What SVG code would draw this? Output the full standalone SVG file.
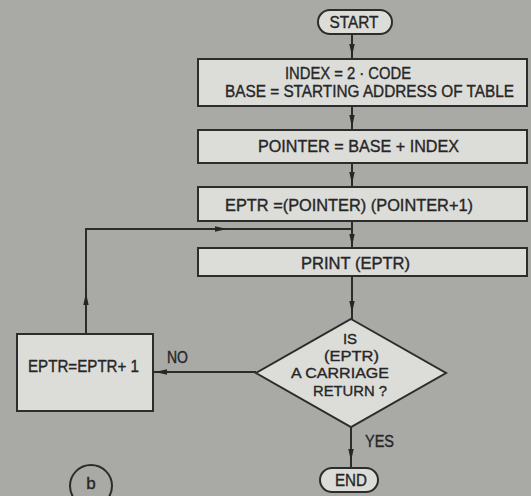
<svg xmlns="http://www.w3.org/2000/svg" width="531" height="496" viewBox="0 0 531 496">
<defs>
<style>
.bg{fill:#a9a9a6}
.box{fill:#dcdcd9;stroke:#2c2c2c;stroke-width:2}
.ln{fill:none;stroke:#2c2c2c;stroke-width:2;marker-mid:url(#ah)}
text{font-family:"Liberation Sans",Arial,sans-serif;font-size:16px;fill:#262626;stroke:#262626;stroke-width:0.35}
.c{text-anchor:middle}
.d{font-size:15px}
.big{font-size:17px}
</style>
<marker id="ah" viewBox="0 0 12 6" refX="12" refY="3" markerUnits="userSpaceOnUse" markerWidth="12" markerHeight="6" orient="auto">
<path d="M0,0.3 L12,3 L0,5.7 z" fill="#262626"/>
</marker>
</defs>
<rect class="bg" x="0" y="0" width="531" height="496"/>
<g id="connectors">
<path class="ln" d="M352,34 V56 V59"/>
<path class="ln" d="M352,106 V127 V130"/>
<path class="ln" d="M352,163 V184 V187"/>
<path class="ln" d="M352,221 V246 V248"/>
<path class="ln" d="M352,276 V313 V319"/>
<path class="ln" d="M351,427 V461 V468"/>
<path class="ln" d="M256,372 H155 H153"/>
<path class="ln" d="M86,334 V293 V230"/>
<path class="ln" d="M85,229 H227 H352"/>
</g>
<g id="start">
<rect class="box" x="318" y="10" width="74" height="24" rx="12"/>
<text class="c" x="354" y="28" textLength="49" lengthAdjust="spacingAndGlyphs">START</text>
</g>
<g id="init">
<rect class="box" x="198" y="59" width="329" height="47"/>
<text class="c" x="348" y="79" textLength="126" lengthAdjust="spacingAndGlyphs">INDEX = 2 · CODE</text>
<text class="c" x="369.5" y="97" textLength="289" lengthAdjust="spacingAndGlyphs">BASE = STARTING ADDRESS OF TABLE</text>
</g>
<g id="pointer">
<rect class="box" x="198" y="130" width="329" height="33"/>
<text class="c" x="358.5" y="152" textLength="201" lengthAdjust="spacingAndGlyphs">POINTER = BASE + INDEX</text>
</g>
<g id="eptr">
<rect class="box" x="198" y="187" width="329" height="34"/>
<text x="225" y="211" textLength="248" lengthAdjust="spacingAndGlyphs">EPTR =(POINTER) (POINTER+1)</text>
</g>
<g id="print">
<rect class="box" x="198" y="248" width="329" height="28"/>
<text class="c" x="355.5" y="269" textLength="109" lengthAdjust="spacingAndGlyphs">PRINT (EPTR)</text>
</g>
<g id="decision">
<polygon class="box" points="351,319 446,373 351,427 256,373"/>
<text class="c d" x="350" y="344">IS</text>
<text class="c d" x="351.5" y="361" textLength="55" lengthAdjust="spacingAndGlyphs">(EPTR)</text>
<text class="c d" x="340" y="378" textLength="98" lengthAdjust="spacingAndGlyphs">A CARRIAGE</text>
<text class="c d" x="350" y="396" textLength="74" lengthAdjust="spacingAndGlyphs">RETURN ?</text>
<text x="365" y="447" textLength="29" lengthAdjust="spacingAndGlyphs">YES</text>
<text x="167" y="363" textLength="21" lengthAdjust="spacingAndGlyphs">NO</text>
</g>
<g id="increment">
<rect class="box" x="17" y="334" width="136" height="77"/>
<text class="c" x="83.5" y="372" textLength="111" lengthAdjust="spacingAndGlyphs">EPTR=EPTR+ 1</text>
</g>
<g id="end">
<rect class="box" x="320" y="468" width="58" height="24" rx="12"/>
<text class="c" x="351" y="486" textLength="32" lengthAdjust="spacingAndGlyphs">END</text>
</g>
<g id="label-b">
<circle cx="91" cy="486" r="21" fill="none" stroke="#2c2c2c" stroke-width="2"/>
<text class="c big" x="91" y="489">b</text>
</g>
</svg>
